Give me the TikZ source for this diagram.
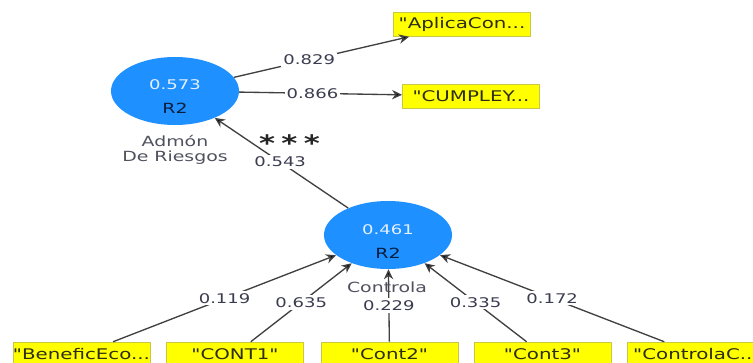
\documentclass[tikz,border=0pt]{standalone}
\usepackage{fontspec}
\setmainfont[FakeStretch=1.35,Ligatures=TeXOff]{DejaVu Sans}
\usetikzlibrary{shapes.geometric,arrows.meta}

\definecolor{lvblue}{RGB}{30,144,255}
\definecolor{valtext}{RGB}{228,240,255}
\definecolor{rtext}{RGB}{10,30,60}
\definecolor{indyellow}{RGB}{255,255,0}
\definecolor{indborder}{RGB}{200,200,70}
\definecolor{indtext}{RGB}{45,45,20}
\definecolor{coeftext}{RGB}{60,60,80}
\definecolor{titletext}{RGB}{80,80,95}
\definecolor{linegray}{RGB}{64,64,64}

\begin{document}
\begin{tikzpicture}[x=0.75pt,y=-0.75pt]
%%%%%%%%%%%%%%%%%%%%%%%%%%%%%%%%%%%%%%%%%%%%%%%%%%%%%%%%
% STYLE
\tikzstyle{lv}=[ellipse,fill=lvblue,minimum width=96pt,minimum height=51pt,inner sep=0pt]
\tikzstyle{ind}=[rectangle,draw=indborder,fill=indyellow,minimum width=103pt,minimum height=18pt,inner sep=0pt,font=\fontsize{11}{12}\selectfont,text=indtext]
\tikzstyle{val}=[font=\fontsize{10}{11}\selectfont,text=valtext]
\tikzstyle{rtwo}=[font=\fontsize{10.5}{12}\selectfont,text=rtext]
\tikzstyle{coef}=[fill=white,inner sep=1.5pt,font=\fontsize{10}{11}\selectfont,text=coeftext]
\tikzstyle{stars}=[inner sep=0pt,xshift=7pt,yshift=1.5pt,font=\fontsize{17}{17}\selectfont\bfseries,text=black!85]
\tikzstyle{title}=[align=center,font=\fontsize{10.5}{11.5}\selectfont,text=titletext]

\tikzset{link/.style={draw=linegray,line width=1pt,-{Stealth[length=7.5pt,width=7pt,fill=black]}}}

\useasboundingbox (0,0) rectangle (753,363);

%%%%%%%%%%%%%%%%%%%%%%%%%%%%%%%%%%%%%%%%%%%%%%%%%%%%%%%%
% NODES
\node[lv] (ADM) at (175,91) {};
\node[val] (ADMval) at (175,85) {0.573};
\node[rtwo] (ADMr2) at (175,108) {R2};

\node[lv] (CTL) at (388,235) {};
\node[val] (CTLval) at (388,230) {0.461};
\node[rtwo] (CTLr2) at (388,253) {R2};

\node[ind] (APL) at (462,24.5) {"AplicaCon...};
\node[ind] (CUM) at (471,96) {"CUMPLEY...};

\node[ind] (BEN) at (81.5,354) {"BeneficEco...};
\node[ind] (CT1) at (235,354) {"CONT1"};
\node[ind] (CT2) at (389.5,354) {"Cont2"};
\node[ind] (CT3) at (542.5,354) {"Cont3"};
\node[ind] (CTC) at (696,354) {"ControlaC...};

%%%%%%%%%%%%%%%%%%%%%%%%%%%%%%%%%%%%%%%%%%%%%%%%%%%%%%%%
% LINKS
\draw[link] (ADM) -- node[coef,pos=0.43] {0.829} (APL);
\draw[link] (ADM) -- node[coef,pos=0.45] {0.866} (CUM);
\draw[link] (CTL) -- node[coef,pos=0.51,label={[stars]above:*\;*\;*}] {0.543} (ADM);

\draw[link] (BEN) -- node[coef] {0.119} (CTL);
\draw[link] (CT1) -- node[coef] {0.635} (CTL);
\draw[link] (CT2) -- node[coef] {0.229} (CTL);
\draw[link] (CT3) -- node[coef] {0.335} (CTL);
\draw[link] (CTC) -- node[coef] {0.172} (CTL);

% TITLES
\node[title] (ADMtxt) at (175,150) {Admón\\De Riesgos};
\node[title] (CTLtxt) at (387,287) {Controla};

\end{tikzpicture}
\end{document}
